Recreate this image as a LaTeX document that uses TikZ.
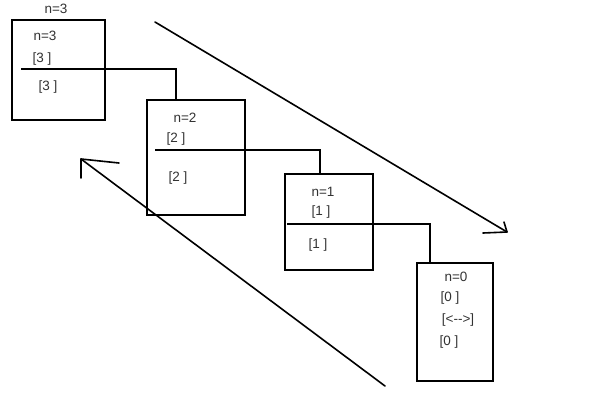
\documentclass[tikz,border=0pt]{standalone}
\usepackage{fontspec}
\setmainfont{Liberation Sans}
\begin{document}
\begin{tikzpicture}[x=1pt,y=-1pt,
  box/.style={draw=black,line width=1.8pt,inner sep=0pt,fill=none},
  lbl/.style={inner sep=0pt,font=\fontsize{13.5}{15}\selectfont,text=black!80},
  wire/.style={line width=1.8pt,draw=black},
  bigarrow/.style={line width=1.6pt,draw=black,line cap=round,line join=round}]
\useasboundingbox[fill=white] (0,0) rectangle (593,401);
% boxes
\node[box,minimum width=93pt,minimum height=100pt] (b3) at (58.5,70) {};
\node[box,minimum width=98pt,minimum height=115pt] (b2) at (196,157.5) {};
\node[box,minimum width=88pt,minimum height=96pt] (b1) at (329,222) {};
\node[box,minimum width=76pt,minimum height=118pt] (b0) at (455,322) {};
% labels
\node[lbl] (t3) at (56,9) {n=3};
\node[lbl] (n3) at (45,36) {n=3};
\node[lbl] (a3) at (42,59) {[3 ]};
\node[lbl] (c3) at (48,87) {[3 ]};
\node[lbl] (n2) at (185,118) {n=2};
\node[lbl] (a2) at (176,139) {[2 ]};
\node[lbl] (c2) at (178,178) {[2 ]};
\node[lbl] (n1) at (323,192) {n=1};
\node[lbl] (a1) at (321,212) {[1 ]};
\node[lbl] (c1) at (318,245) {[1 ]};
\node[lbl] (n0) at (456,277) {n=0};
\node[lbl] (a0) at (450,298) {[0 ]};
\node[lbl] (m0) at (458,320) {[<-{}->]};
\node[lbl] (c0) at (449,342) {[0 ]};
% connectors
\coordinate (s3) at (21,69);
\coordinate (e3) at (176,100);
\coordinate (s2) at (155,150);
\coordinate (e2) at (320,174);
\coordinate (s1) at (287,224);
\coordinate (e1) at (430,263);
\draw[wire] (s3) -| (e3);
\draw[wire] (s2) -| (e2);
\draw[wire] (s1) -| (e1);
% big arrows
\coordinate (d0) at (155,22);
\coordinate (d1) at (507,232);
\coordinate (d2) at (483,233);
\coordinate (d3) at (504,222);
\draw[bigarrow] (d0) -- (d1);
\draw[bigarrow] (d2) -- (d1) -- (d3);
\coordinate (u0) at (385,386);
\coordinate (u1) at (81,159);
\coordinate (u2) at (119,163);
\coordinate (u3) at (81,178);
\draw[bigarrow] (u0) -- (u1);
\draw[bigarrow] (u2) -- (u1) -- (u3);
\end{tikzpicture}
\end{document}
